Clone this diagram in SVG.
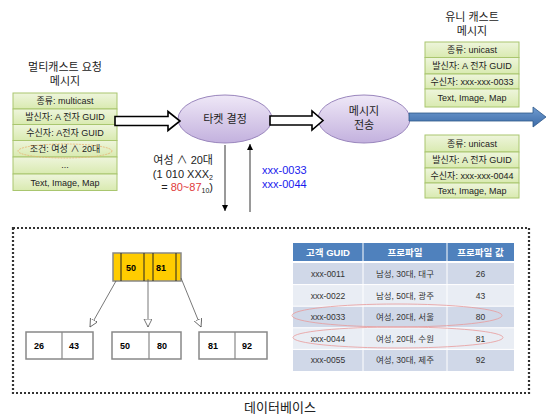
<svg xmlns="http://www.w3.org/2000/svg" width="546" height="417" viewBox="0 0 546 417">
<defs>
<style>
text{font-family:"Liberation Sans","Noto Sans CJK KR",sans-serif;fill:#222;}
.bx{font-size:9px;text-anchor:middle;}
.cell{fill:url(#gr);stroke:#a9c66f;stroke-width:1;}
.ttl{font-size:11px;text-anchor:middle;}
.ell{fill:url(#pu);stroke:#9a86bd;stroke-width:1;}
.out{fill:#fff;stroke:#000;stroke-width:1.6;}
.bt{fill:#fff;stroke:#888;stroke-width:1.5;}
.num{font-size:9px;font-weight:bold;fill:#000;}
.tc{font-size:8.5px;text-anchor:middle;fill:#333;}
.th{font-size:9.5px;text-anchor:middle;fill:#fff;font-weight:bold;}
.red{fill:none;stroke:#e89a9a;stroke-width:0.8;}
</style>
<linearGradient id="gr" x1="0" y1="0" x2="0" y2="1"><stop offset="0" stop-color="#eef5dc"/><stop offset="1" stop-color="#d9eab0"/></linearGradient>
<linearGradient id="pu" x1="0" y1="0" x2="0" y2="1"><stop offset="0" stop-color="#efe8f7"/><stop offset="1" stop-color="#c3b1de"/></linearGradient>
<linearGradient id="bl" x1="0" y1="0" x2="0" y2="1"><stop offset="0" stop-color="#6f9bd0"/><stop offset="1" stop-color="#3d6ca8"/></linearGradient>
<marker id="tri" markerWidth="10" markerHeight="10" refX="8" refY="4" orient="auto" markerUnits="userSpaceOnUse"><path d="M0,0 L8,4 L0,8 Z" fill="#fff" stroke="#555" stroke-width="0.8"/></marker>
<marker id="ah" markerWidth="8" markerHeight="8" refX="6" refY="3" orient="auto" markerUnits="userSpaceOnUse"><path d="M0,0 L6,3 L0,6 Z" fill="#000"/></marker>
</defs>
<rect width="546" height="417" fill="#fff"/>

<g id="multicast">
<text class="ttl" x="65" y="71">멀티캐스트 요청</text>
<text class="ttl" x="65" y="85">메시지</text>
<rect class="cell" x="13" y="93" width="104" height="16"/>
<rect class="cell" x="13" y="109" width="104" height="15.5"/>
<rect class="cell" x="13" y="124.5" width="104" height="16"/>
<rect class="cell" x="13" y="140.5" width="104" height="16.5"/>
<rect class="cell" x="13" y="157" width="104" height="17"/>
<rect class="cell" x="13" y="174" width="104" height="16.5"/>
<text class="bx" x="65" y="104">종류: multicast</text>
<text class="bx" x="65" y="120">발신자: A 전자 GUID</text>
<text class="bx" x="65" y="135.5">수신자: A전자 GUID</text>
<text class="bx" x="65" y="152">조건: 여성  ∧  20대</text>
<text class="bx" x="65" y="168">...</text>
<text class="bx" x="65" y="185.5">Text, Image, Map</text>
<ellipse cx="65" cy="151" rx="47" ry="7" fill="none" stroke="#e8b070" stroke-width="0.8" stroke-dasharray="2,1"/>
</g>

<g id="target">
<ellipse class="ell" cx="225" cy="119" rx="47" ry="24"/>
<text class="ttl" x="225" y="123">타켓 결정</text>
</g>

<g id="send">
<ellipse class="ell" cx="364" cy="119" rx="46" ry="24"/>
<text class="ttl" x="364" y="115">메시지</text>
<text class="ttl" x="364" y="129">전송</text>
</g>

<g id="unicast1">
<text class="ttl" x="472" y="21">유니 캐스트</text>
<text class="ttl" x="472" y="35">메시지</text>
<rect class="cell" x="425" y="42" width="94" height="15.5"/>
<rect class="cell" x="425" y="57.5" width="94" height="16.5"/>
<rect class="cell" x="425" y="74" width="94" height="15"/>
<rect class="cell" x="425" y="89" width="94" height="18"/>
<text class="bx" x="472" y="53">종류: unicast</text>
<text class="bx" x="472" y="69">발신자: A 전자 GUID</text>
<text class="bx" x="472" y="84.5">수신자: xxx-xxx-0033</text>
<text class="bx" x="472" y="101">Text, Image, Map</text>
</g>

<g id="unicast2">
<rect class="cell" x="425" y="135" width="94" height="17"/>
<rect class="cell" x="425" y="152" width="94" height="16"/>
<rect class="cell" x="425" y="168" width="94" height="15"/>
<rect class="cell" x="425" y="183" width="94" height="15"/>
<text class="bx" x="472" y="147">종류: unicast</text>
<text class="bx" x="472" y="163">발신자: A 전자 GUID</text>
<text class="bx" x="472" y="178.5">수신자: xxx-xxx-0044</text>
<text class="bx" x="472" y="194">Text, Image, Map</text>
</g>

<g id="connectors">
<path class="out" d="M115,116.5 H168 V111.5 L180,121 L168,130.5 V125.5 H115 Z"/>
<path class="out" d="M270,116 H312 V111 L323,120.5 L312,130 V125 H270 Z"/>
<path d="M409,113 H533 V107 L546,117 L533,127 V121 H409 Z" fill="url(#bl)" stroke="#2f5889" stroke-width="0.8"/>
<line x1="225" y1="145" x2="225" y2="211" stroke="#000" stroke-width="0.8" marker-end="url(#ah)"/>
<line x1="250" y1="212" x2="250" y2="144" stroke="#000" stroke-width="0.8" marker-end="url(#ah)"/>
</g>

<g id="labels">
<text x="213" y="164" style="font-size:11px;text-anchor:end">여성 ∧ 20대</text>
<text x="213" y="178" style="font-size:11px;text-anchor:end">(1 010 XXX<tspan style="font-size:7px" dy="2">2</tspan></text>
<text x="213" y="191" style="font-size:11px;text-anchor:end">= <tspan fill="#e03a3a">80~87</tspan><tspan style="font-size:7px" dy="2">10</tspan><tspan dy="-2">)</tspan></text>
<text x="262" y="174" style="font-size:11px;fill:#1a1aee">xxx-0033</text>
<text x="262" y="188" style="font-size:11px;fill:#1a1aee">xxx-0044</text>
</g>

<g id="database">
<rect x="13" y="228" width="516" height="165" fill="none" stroke="#333" stroke-width="2.2" stroke-dasharray="2,2"/>
<text x="280" y="412" style="font-size:13px;text-anchor:middle">데이터베이스</text>
</g>

<g id="btree-root">
<rect x="113" y="253" width="68" height="28" fill="#ffcc00" stroke="#888" stroke-width="1.5"/>
<line x1="121" y1="253" x2="121" y2="281" stroke="#222"/>
<line x1="144" y1="253" x2="144" y2="281" stroke="#222"/>
<line x1="153" y1="253" x2="153" y2="281" stroke="#222"/>
<line x1="176" y1="253" x2="176" y2="281" stroke="#222"/>
<text class="num" x="126" y="271">50</text>
<text class="num" x="156" y="271">81</text>
</g>
<g id="btree-leaf1">
<rect class="bt" x="26" y="332" width="67" height="27"/>
<line x1="62" y1="332" x2="62" y2="359" stroke="#888" stroke-width="1.2"/>
<text class="num" x="34" y="349">26</text>
<text class="num" x="69" y="349">43</text>
</g>
<g id="btree-leaf2">
<rect class="bt" x="112" y="332" width="69" height="27"/>
<line x1="149" y1="332" x2="149" y2="359" stroke="#888" stroke-width="1.2"/>
<text class="num" x="120" y="349">50</text>
<text class="num" x="157" y="349">80</text>
</g>
<g id="btree-leaf3">
<rect class="bt" x="199" y="332" width="68" height="27"/>
<line x1="235" y1="332" x2="235" y2="359" stroke="#888" stroke-width="1.2"/>
<text class="num" x="208" y="349">81</text>
<text class="num" x="242" y="349">92</text>
</g>
<g id="btree-edges">
<line x1="116" y1="281" x2="90" y2="327" stroke="#555" stroke-width="0.8" marker-end="url(#tri)"/>
<line x1="148" y1="279" x2="148" y2="327" stroke="#555" stroke-width="0.8" marker-end="url(#tri)"/>
<line x1="181" y1="278" x2="201" y2="327" stroke="#555" stroke-width="0.8" marker-end="url(#tri)"/>
</g>

<g id="table">
<rect x="293" y="243" width="221" height="18" fill="#4f81bd"/>
<line x1="363" y1="243" x2="363" y2="261" stroke="#fff"/>
<line x1="447" y1="243" x2="447" y2="261" stroke="#fff"/>
<text class="th" x="328" y="255.5">고객 GUID</text>
<text class="th" x="405" y="255.5">프로파일</text>
<text class="th" x="480.5" y="255.5">프로파일 값</text>
<rect x="293" y="263" width="221" height="21.6" fill="#d0d8e8"/>
<rect x="293" y="284.6" width="221" height="21.6" fill="#e9edf4"/>
<rect x="293" y="306.2" width="221" height="21.6" fill="#d0d8e8"/>
<rect x="293" y="327.8" width="221" height="21.6" fill="#e9edf4"/>
<rect x="293" y="349.4" width="221" height="21.6" fill="#d0d8e8"/>
<g stroke="#fff" stroke-width="1">
<line x1="293" y1="284.6" x2="514" y2="284.6"/>
<line x1="293" y1="306.2" x2="514" y2="306.2"/>
<line x1="293" y1="327.8" x2="514" y2="327.8"/>
<line x1="293" y1="349.4" x2="514" y2="349.4"/>
<line x1="363" y1="263" x2="363" y2="371"/>
<line x1="447" y1="263" x2="447" y2="371"/>
</g>
<text class="tc" x="328" y="277">xxx-0011</text><text class="tc" x="405" y="277">남성, 30대, 대구</text><text class="tc" x="480.5" y="277">26</text>
<text class="tc" x="328" y="298.5">xxx-0022</text><text class="tc" x="405" y="298.5">남성, 50대, 광주</text><text class="tc" x="480.5" y="298.5">43</text>
<text class="tc" x="328" y="320">xxx-0033</text><text class="tc" x="405" y="320">여성, 20대, 서울</text><text class="tc" x="480.5" y="320">80</text>
<text class="tc" x="328" y="341.5">xxx-0044</text><text class="tc" x="405" y="341.5">여성, 20대, 수원</text><text class="tc" x="480.5" y="341.5">81</text>
<text class="tc" x="328" y="363">xxx-0055</text><text class="tc" x="405" y="363">여성, 30대, 제주</text><text class="tc" x="480.5" y="363">92</text>
<ellipse class="red" cx="397" cy="315.5" rx="105" ry="11.5"/>
<ellipse class="red" cx="398" cy="337.5" rx="105" ry="10.5"/>
</g>
</svg>
